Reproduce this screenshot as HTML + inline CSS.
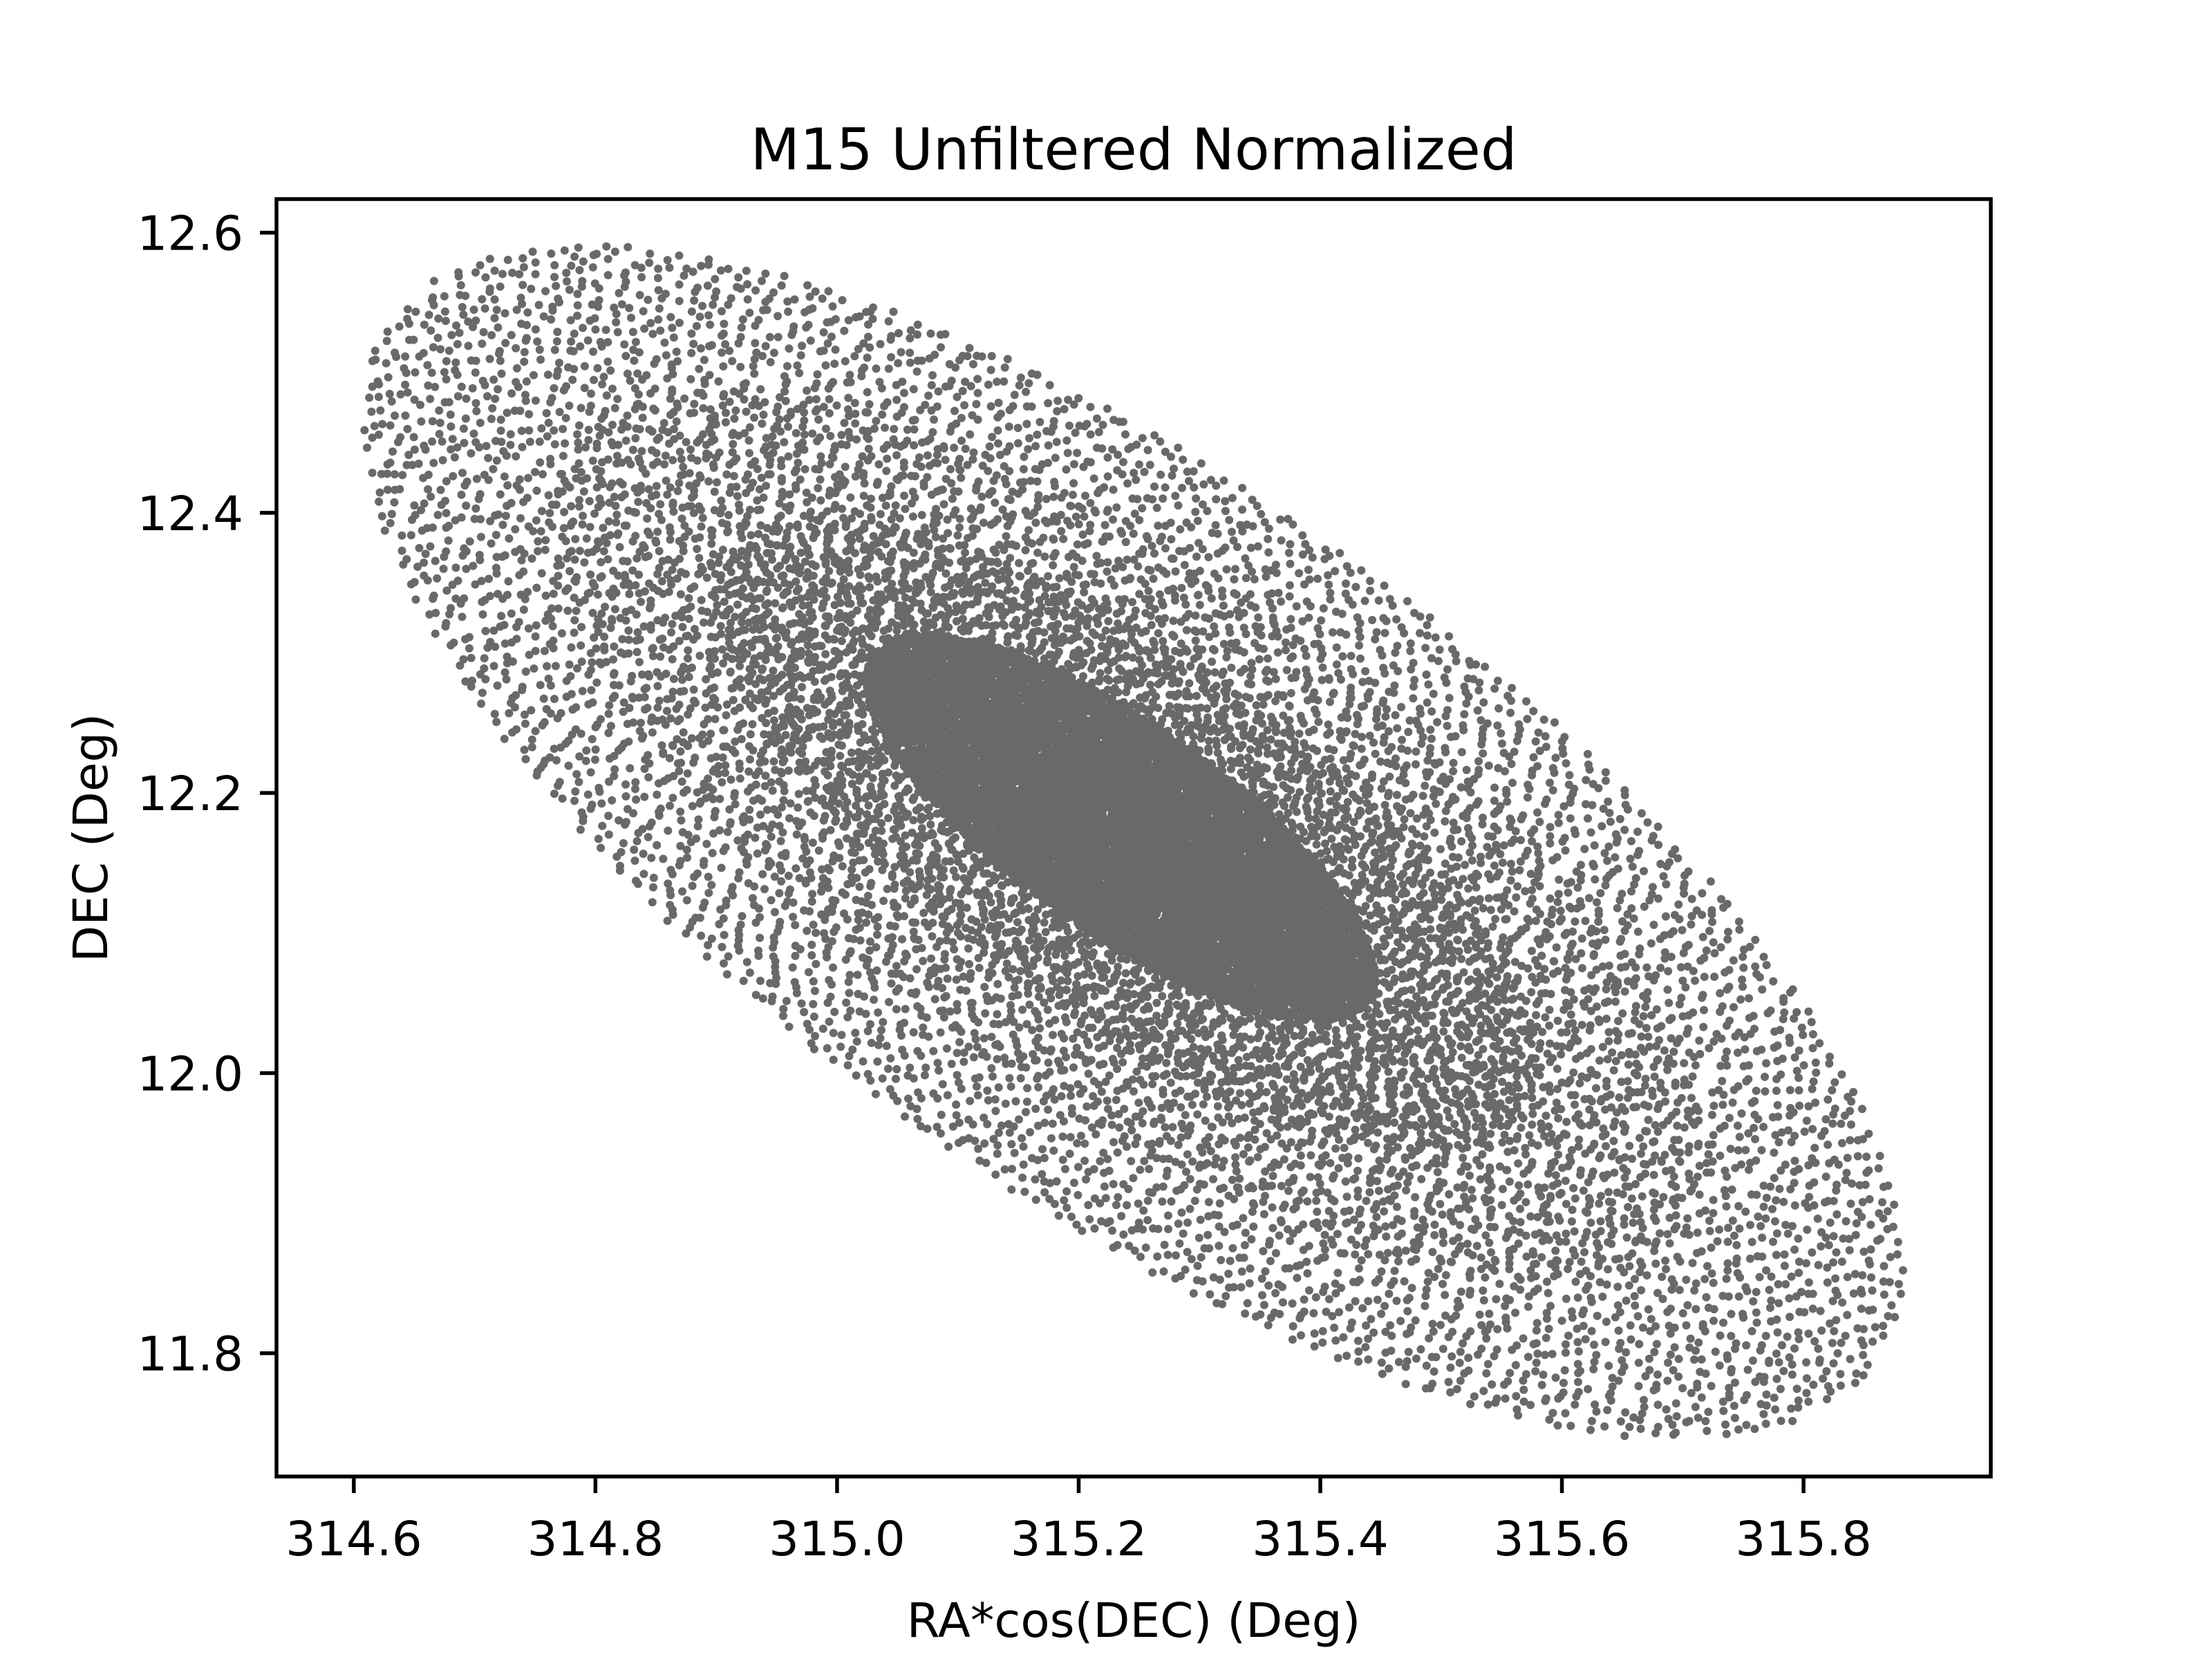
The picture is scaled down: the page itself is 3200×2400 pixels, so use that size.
<!DOCTYPE html>
<html><head><meta charset="utf-8"><style>
html,body{margin:0;padding:0;background:#fff;}
svg{display:block;font-family:"DejaVu Sans","Liberation Sans",sans-serif;}
</style></head><body>
<svg id="chart" width="3200" height="2400" viewBox="0 0 3200 2400">
<rect width="3200" height="2400" fill="#fff"/>
<text x="1640" y="245" font-size="83" text-anchor="middle">M15 Unfiltered Normalized</text>
<g id="points"></g>
<g id="axes"></g>
<text x="1640" y="2368" font-size="69" text-anchor="middle">RA*cos(DEC) (Deg)</text>
<text x="0" y="0" font-size="69" text-anchor="middle" transform="translate(155,1212) rotate(-90)">DEC (Deg)</text>
</svg>
<script>
const xTicks = [314.6, 314.8, 315.0, 315.2, 315.4, 315.6, 315.8];
const xTickLabels = ["314.6", "314.8", "315.0", "315.2", "315.4", "315.6", "315.8"];
const yTicks = [11.8, 12.0, 12.2, 12.4, 12.6];
const yTickLabels = ["11.8", "12.0", "12.2", "12.4", "12.6"];
// point cloud components (data units): center, major half-extent (RA), minor half-width (DEC), point count
const compCenterRA = [315.245, 315.24, 315.24, 315.235];
const compCenterDEC = [12.165, 12.17, 12.17, 12.175];
const compMajorRA = [0.615, 0.46, 0.33, 0.205];
const compMinorDEC = [0.255, 0.19, 0.13, 0.075];
const compCount = [7000, 2200, 2500, 6000];

const X0 = 400, X1 = 2880, Y0 = 288, Y1 = 2136;
const xMin = 314.536, xMax = 315.955, yMin = 11.712, yMax = 12.624;
const sx = v => X0 + (v - xMin) / (xMax - xMin) * (X1 - X0);
const sy = v => Y1 - (v - yMin) / (yMax - yMin) * (Y1 - Y0);

function halton(i, b) { let f = 1, r = 0; while (i > 0) { f /= b; r += f * (i % b); i = Math.floor(i / b); } return r; }

const pts = document.getElementById('points');
let parts = [];
for (let k = 0; k < compCount.length; k++) {
  const cx = sx(compCenterRA[k]), cy = sy(compCenterDEC[k]);
  const ax = sx(compCenterRA[k] + compMajorRA[k]) - cx;
  const ay = ax * 0.7;
  const a = Math.hypot(ax, ay);
  const ux = ax / a, uy = ay / a;
  const b = Math.abs(sy(compCenterDEC[k] + compMinorDEC[k]) - cy);
  for (let i = 1; i <= compCount[k]; i++) {
    const r = Math.sqrt(halton(i + 37 * k, 2));
    const t = 2 * Math.PI * halton(i + 37 * k, 3);
    const u = r * Math.cos(t) * a, v = r * Math.sin(t) * b;
    const px = cx + u * ux - v * uy, py = cy + u * uy + v * ux;
    if (px < X0 || px > X1 || py < Y0 || py > Y1) continue;
    parts.push('<circle cx="' + px.toFixed(1) + '" cy="' + py.toFixed(1) + '" r="6"/>');
  }
}
pts.setAttribute('fill', '#696969');
pts.innerHTML = parts.join('');

const axes = document.getElementById('axes');
let h = '<rect x="' + X0 + '" y="' + Y0 + '" width="' + (X1 - X0) + '" height="' + (Y1 - Y0) + '" fill="none" stroke="#000" stroke-width="5.5"/>';
xTicks.forEach((t, i) => {
  const x = sx(t);
  h += '<line x1="' + x + '" y1="' + Y1 + '" x2="' + x + '" y2="' + (Y1 + 24) + '" stroke="#000" stroke-width="5.5"/>';
  h += '<text x="' + x + '" y="' + (Y1 + 114) + '" font-size="69" text-anchor="middle">' + xTickLabels[i] + '</text>';
});
yTicks.forEach((t, i) => {
  const y = sy(t);
  h += '<line x1="' + (X0 - 24) + '" y1="' + y + '" x2="' + X0 + '" y2="' + y + '" stroke="#000" stroke-width="5.5"/>';
  h += '<text x="' + (X0 - 48) + '" y="' + (y + 25) + '" font-size="69" text-anchor="end">' + yTickLabels[i] + '</text>';
});
axes.innerHTML = h;
</script>
</body></html>
